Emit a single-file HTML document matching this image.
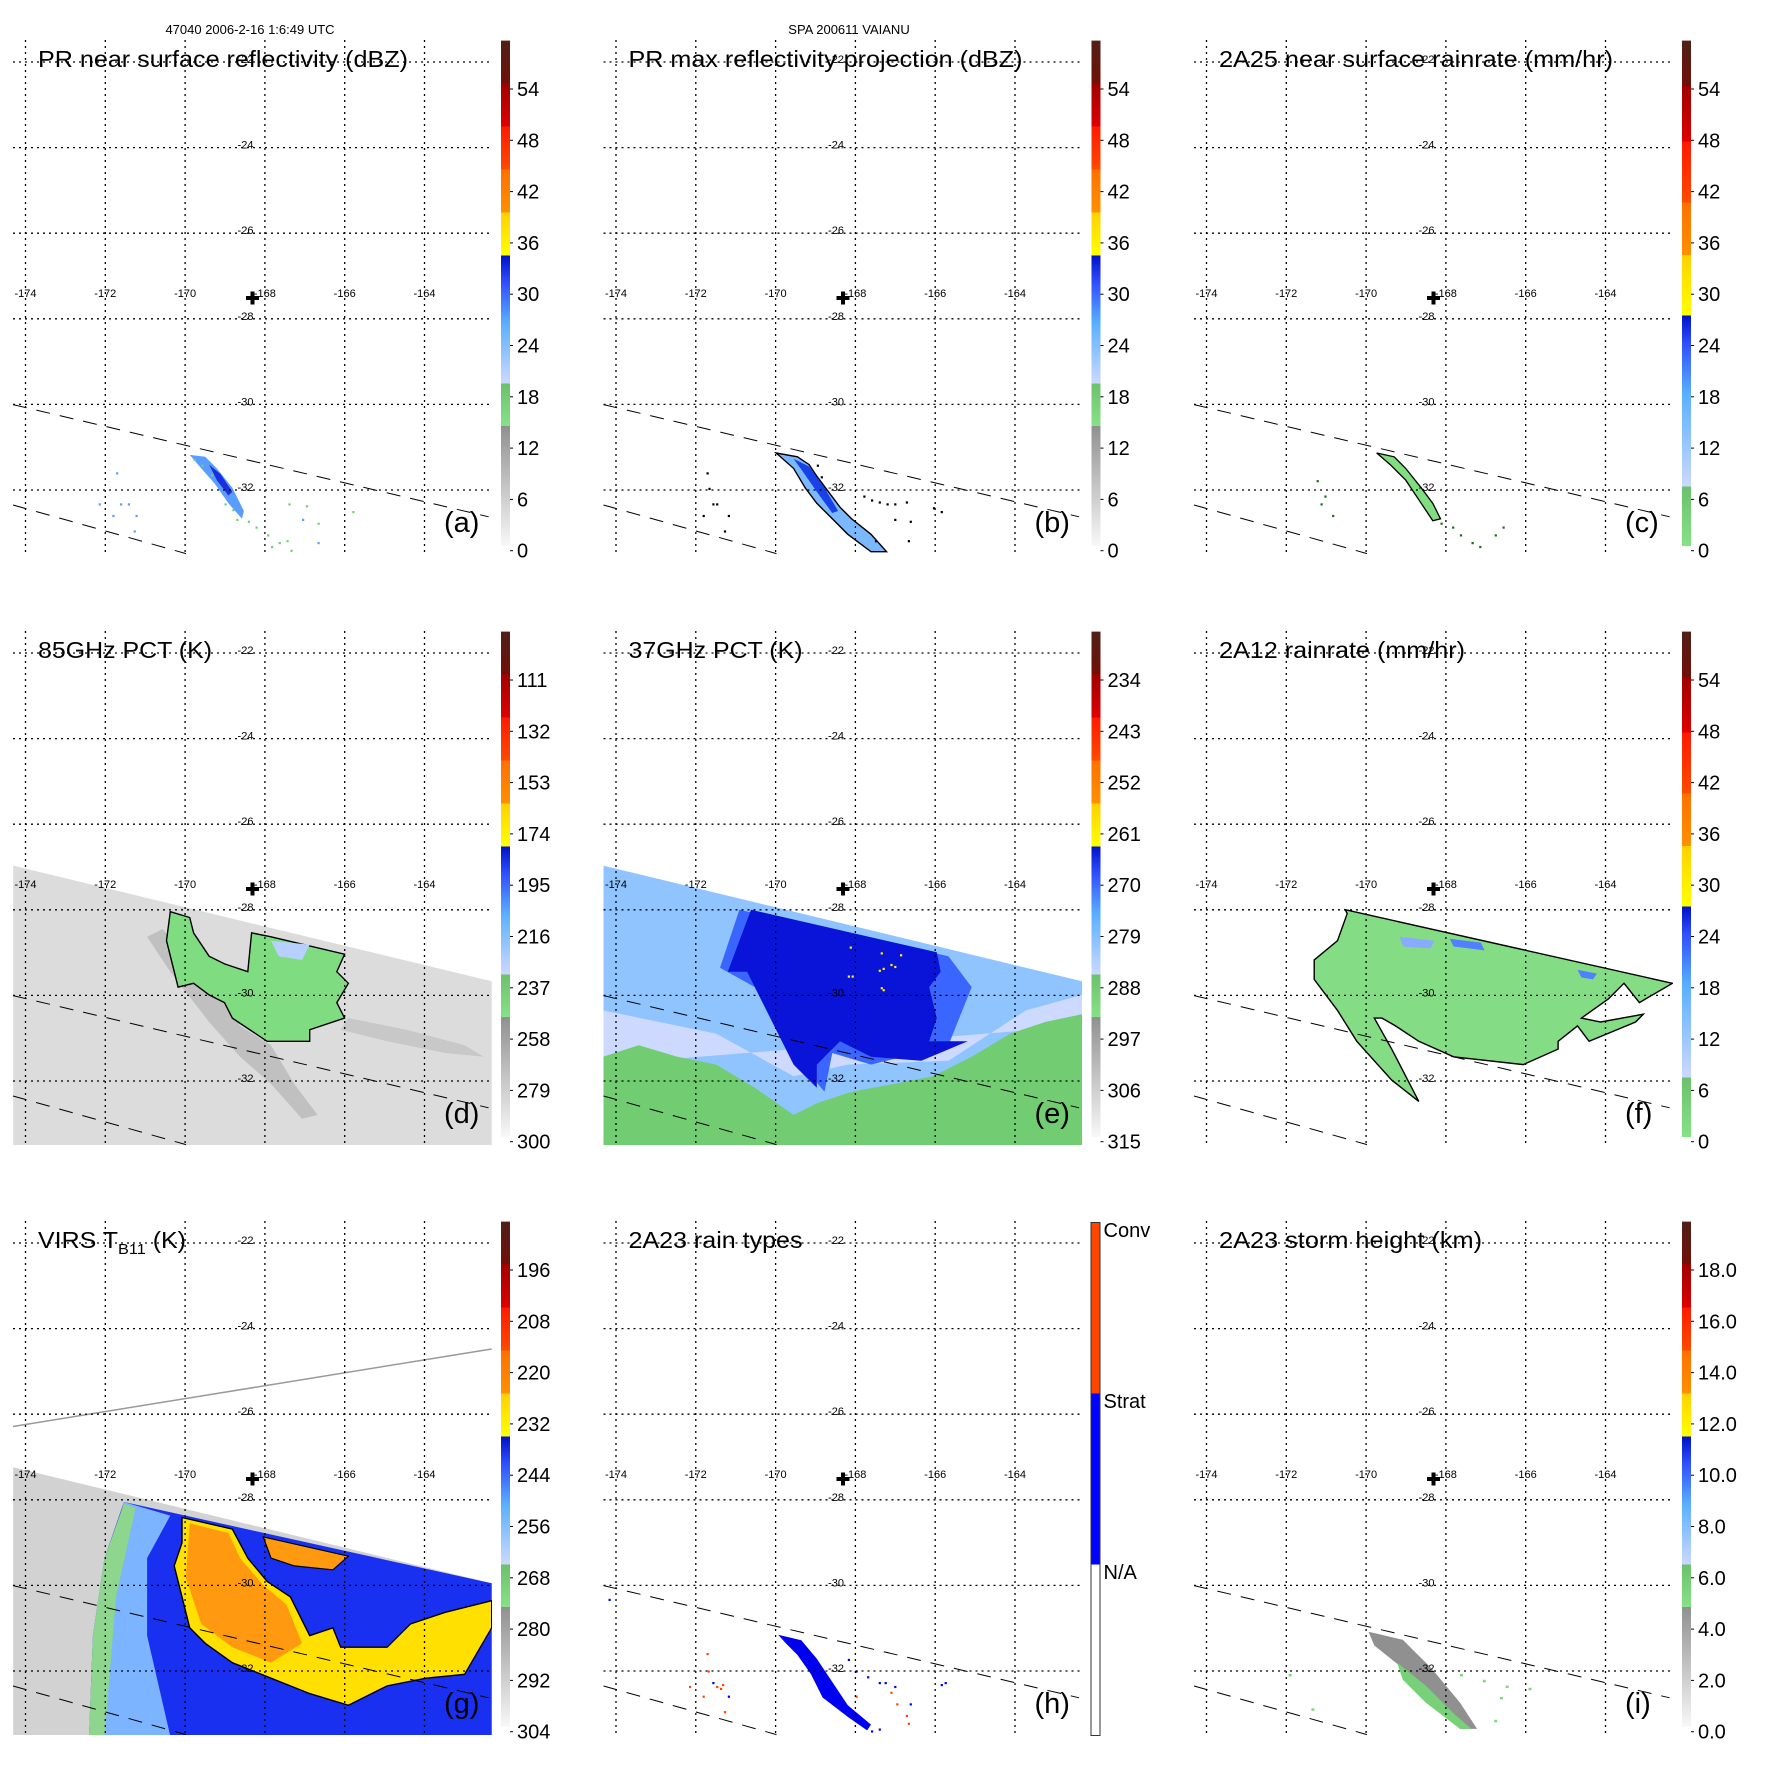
<!DOCTYPE html>
<html><head><meta charset="utf-8"><style>
html,body{margin:0;padding:0;background:#fff;}
svg{display:block;font-family:"Liberation Sans",Arial,sans-serif;}
</style></head><body>
<svg id="fig" xmlns="http://www.w3.org/2000/svg" width="1771" height="1771" viewBox="0 0 1771 1771">
<defs>
<clipPath id="mapclip"><rect x="13" y="40" width="479" height="514"/></clipPath>
<linearGradient id="gA" x1="0" y1="1" x2="0" y2="0">
<stop offset="0" stop-color="#f8f8f8"/><stop offset="0.2375" stop-color="#909090"/>
<stop offset="0.2375" stop-color="#86e286"/><stop offset="0.322" stop-color="#6cc06c"/>
<stop offset="0.322" stop-color="#ccd8ff"/><stop offset="0.44" stop-color="#5ab0ff"/><stop offset="0.52" stop-color="#3050ff"/><stop offset="0.575" stop-color="#0010c8"/>
<stop offset="0.575" stop-color="#ffff00"/><stop offset="0.66" stop-color="#ffd000"/>
<stop offset="0.66" stop-color="#ff9000"/><stop offset="0.745" stop-color="#ff7000"/>
<stop offset="0.745" stop-color="#ff4a00"/><stop offset="0.83" stop-color="#ff1a00"/>
<stop offset="0.83" stop-color="#dd0000"/><stop offset="0.916" stop-color="#a00000"/>
<stop offset="0.916" stop-color="#701008"/><stop offset="1" stop-color="#502018"/>
</linearGradient>
<linearGradient id="gC" x1="0" y1="1" x2="0" y2="0">
<stop offset="0" stop-color="#86e286"/><stop offset="0.118" stop-color="#6cc06c"/>
<stop offset="0.118" stop-color="#ccd8ff"/><stop offset="0.3" stop-color="#5ab0ff"/><stop offset="0.4" stop-color="#3050ff"/><stop offset="0.456" stop-color="#0010c8"/>
<stop offset="0.456" stop-color="#ffff00"/><stop offset="0.576" stop-color="#ffd000"/>
<stop offset="0.576" stop-color="#ff9000"/><stop offset="0.68" stop-color="#ff7000"/>
<stop offset="0.68" stop-color="#ff4a00"/><stop offset="0.8" stop-color="#ff1a00"/>
<stop offset="0.8" stop-color="#dd0000"/><stop offset="0.91" stop-color="#a00000"/>
<stop offset="0.91" stop-color="#701008"/><stop offset="1" stop-color="#502018"/>
</linearGradient>
<linearGradient id="gH" x1="0" y1="1" x2="0" y2="0">
<stop offset="0" stop-color="#ffffff"/><stop offset="0.3333" stop-color="#ffffff"/>
<stop offset="0.3333" stop-color="#0000ff"/><stop offset="0.6667" stop-color="#0000ff"/>
<stop offset="0.6667" stop-color="#ff4500"/><stop offset="1" stop-color="#ff4500"/>
</linearGradient>
</defs>
<text x="250" y="34" font-size="13" text-anchor="middle">47040 2006-2-16 1:6:49 UTC</text>
<text x="849" y="34" font-size="13" text-anchor="middle">SPA 200611 VAIANU</text>
</svg>
<script>
// ---- data arrays ----
const lonTicks = ["-174","-172","-170","-168","-166","-164"];
const latTicks = ["-22","-24","-26","-28","-30","-32"];
const titles = ["PR near surface reflectivity (dBZ)","PR max reflectivity projection (dBZ)","2A25 near surface rainrate (mm/hr)","85GHz PCT (K)","37GHz PCT (K)","2A12 rainrate (mm/hr)","VIRS T_B11 (K)","2A23 rain types","2A23 storm height (km)"];
const titleWidths = [370,394,394,174,174,246,148,174,263];
const panelLetters = ["(a)","(b)","(c)","(d)","(e)","(f)","(g)","(h)","(i)"];
const cbLabelsA = ["54","48","42","36","30","24","18","12","6","0"];
const cbLabelsD = ["111","132","153","174","195","216","237","258","279","300"];
const cbLabelsE = ["234","243","252","261","270","279","288","297","306","315"];
const cbLabelsG = ["196","208","220","232","244","256","268","280","292","304"];
const cbLabelsI = ["18.0","16.0","14.0","12.0","10.0","8.0","6.0","4.0","2.0","0.0"];
const cbLabelsH = ["Conv","Strat","N/A"];
const colOff = [0,590.5,1181];
const rowOff = [0,591,1181];

const NS="http://www.w3.org/2000/svg";
const fig=document.getElementById('fig');
function el(tag,attrs,parent){const e=document.createElementNS(NS,tag);for(const k in attrs)e.setAttribute(k,attrs[k]);parent.appendChild(e);return e;}
const lonX=i=>25.5+79.8*i;
const latY=j=>62+85.6*j;
function pts(arr,dx,dy){return arr.map(p=>(p[0]/2.583+dx).toFixed(1)+","+(p[1]/2.583+dy).toFixed(1)).join(" ");}

function poly(g,arr,dx,dy,fill,stroke,name,sw){
  const p=el('polygon',{points:pts(arr,dx,dy),fill:fill,stroke:stroke||'none','stroke-width':sw||1.2},g);
  
  
  return p;
}
function dots(g,list,dx,dy,fill,name){
  list.forEach(d=>{const r=el('rect',{x:(d[0]/2.583+dx).toFixed(1),y:(d[1]/2.583+dy).toFixed(1),width:2.2,height:2.2,fill:fill},g);
    
    });
}

function panel(idx){
  const c=idx%3,r=Math.floor(idx/3);
  const g=el('g',{transform:`translate(${colOff[c]},${rowOff[r]})`},fig);
  
  
  const data=el('g',{'clip-path':'url(#mapclip)'},g);
  
  
  drawData(idx,data);
  const grid=el('g',{stroke:'#000','stroke-width':1.3,'stroke-dasharray':'2,4',fill:'none'},g);
  
  
  lonTicks.forEach((t,i)=>{const l=el('line',{x1:lonX(i),y1:40,x2:lonX(i),y2:554},grid);
    
    });
  latTicks.forEach((t,j)=>{const l=el('line',{x1:13,y1:latY(j),x2:492,y2:latY(j)},grid);
    
    });
  const sw=el('g',{stroke:'#000','stroke-width':1,'stroke-dasharray':'14,10',fill:'none'},g);
  
  
  const l1=el('line',{x1:13,y1:404.6,x2:488.6,y2:516.8},sw);
  
  
  const l2=el('line',{x1:13,y1:505,x2:186,y2:553.6},sw);
  
  
  lonTicks.forEach((t,i)=>{const tx=el('text',{x:lonX(i),y:297,'font-size':11,'text-anchor':'middle'},g);tx.textContent=t;
    
    });
  latTicks.forEach((t,j)=>{const tx=el('text',{x:245.5,y:latY(j)+1,'font-size':11,'text-anchor':'middle'},g);tx.textContent=t;
    
    });
  const cr=el('path',{d:'M246,298 h13 M252.5,291.5 v13',stroke:'#000','stroke-width':4,fill:'none'},g);
  
  
  const tt=el('text',{x:38,y:67,'font-size':23,textLength:titleWidths[idx],lengthAdjust:'spacingAndGlyphs'},g);
  
  
  if(idx===6){tt.innerHTML='VIRS T<tspan font-size="15" dy="6">B11</tspan><tspan dy="-6"> (K)</tspan>';}
  else tt.textContent=titles[idx];
  const pl=el('text',{x:444,y:532,'font-size':29},g);pl.textContent=panelLetters[idx];
  
  
  if(idx===7){
    const cb=el('rect',{x:500.5,y:41.5,width:9,height:513,fill:'url(#gH)',stroke:'#333','stroke-width':1},g);
    
    
    cbLabelsH.forEach((t,i)=>{const tx=el('text',{x:513,y:56+171*i,'font-size':20},g);tx.textContent=t;
      
      });
  } else {
    const grad=[2,5].includes(idx)?'url(#gC)':'url(#gA)';
    const cb=el('rect',{x:501,y:40.6,width:9,height:505.4,fill:grad},g);
    
    
    const labs=[cbLabelsA,cbLabelsA,cbLabelsA,cbLabelsD,cbLabelsE,cbLabelsA,cbLabelsG,null,cbLabelsI][idx];
    labs.forEach((t,i)=>{const y=95+51.3*i;
      const tk=el('line',{x1:510,y1:y-6,x2:513,y2:y-6,stroke:'#000','stroke-width':1},g);
      
      
      const tx=el('text',{x:517,y:y+1,'font-size':20},g);tx.textContent=t;
      
      });
  }
}

function drawData(idx,g){
  if(idx===0){
    poly(g,[[490,1175],[530,1180],[560,1210],[600,1260],[630,1320],[625,1340],[590,1300],[555,1250],[520,1210]],0,0,'#5a9cff',null,'reflectivity-streak');
    poly(g,[[540,1200],[570,1225],[600,1270],[590,1280],[560,1240]],0,0,'#1a30e0',null,'reflectivity-core');
    dots(g,[[500,1185],[520,1200],[545,1225],[580,1300],[610,1340],[640,1345],[660,1360],[690,1380],[720,1400],[740,1395],[750,1420],[700,1410],[745,1300],[790,1305],[820,1350],[910,1320],[600,1315]],0,0,'#70d070','light-echo');
    dots(g,[[300,1220],[310,1300],[330,1300],[290,1330],[350,1330],[345,1370],[780,1340],[820,1400],[255,1300]],0,0,'#5a9cff','weak-echo');
  } else if(idx===1){
    poly(g,[[455,1170],[510,1180],[540,1200],[560,1230],[590,1270],[620,1310],[650,1340],[700,1380],[740,1425],[700,1425],[640,1380],[600,1340],[560,1300],[530,1260],[500,1210]],9.5,0,'#7ab8ff','#000','max-reflectivity-streak',1.4);
    poly(g,[[500,1185],[540,1205],[580,1260],[615,1320],[600,1325],[560,1270],[525,1220]],9.5,0,'#1a40e8',null,'max-reflectivity-core');
    dots(g,[[275,1220],[280,1260],[290,1300],[300,1300],[330,1330],[320,1370],[265,1330],[680,1280],[700,1290],[720,1295],[740,1300],[760,1300],[790,1295],[760,1340],[800,1345],[795,1395],[710,1395],[570,1230],[560,1200],[860,1310],[880,1320]],9.5,0,'#000','echo-outline-speck');
  } else if(idx===2){
    poly(g,[[455,1170],[500,1180],[530,1210],[570,1260],[600,1300],[620,1340],[600,1345],[570,1300],[530,1240],[490,1200]],19.5,0,'#80dd80','#000','rainrate-streak',1.3);
    dots(g,[[620,1350],[650,1360],[670,1380],[700,1400],[720,1410],[760,1380],[780,1360],[300,1240],[320,1280],[310,1300],[340,1330]],19.5,0,'#1a6a1a','rain-speck');
  } else if(idx===3){
    const sw=[[34,686],[1270,985],[1270,1408],[34,1408]];
    poly(g,sw,0,9,'#dcdcdc',null,'tmi-swath');
    poly(g,[[420,850],[560,1000],[620,1100],[700,1150],[760,1250],[820,1330],[780,1340],[700,1250],[620,1180],[540,1090],[440,960],[380,870]],0,9,'#c0c0c0',null,'low-pct-band');
    poly(g,[[900,1080],[1050,1110],[1200,1150],[1250,1180],[1150,1170],[1000,1140],[880,1110]],0,9,'#c8c8c8',null,'low-pct-band');
    poly(g,[[440,805],[490,820],[500,860],[540,920],[580,940],[640,960],[650,860],[700,870],[890,915],[870,960],[900,990],[870,1040],[890,1080],[800,1110],[800,1140],[690,1140],[600,1080],[580,1040],[540,1020],[500,990],[460,1000],[430,880]],0,9,'#80dc80','#000','pct-depression-area',1.4);
    poly(g,[[700,880],[800,890],[780,930],[720,920]],0,9,'#b8d0ff',null,'pct-low-patch');
  } else if(idx===4){
    const sw=[[8,686],[1245,985],[1245,1408],[8,1408]];
    poly(g,sw,9.5,9,'#90c4ff',null,'tmi-swath');
    poly(g,[[8,1060],[300,1120],[500,1230],[640,1200],[900,1190],[1100,1060],[1245,1020],[1245,1100],[8,1200]],9.5,9,'#cdd9ff',null,'pct-light-area');
    poly(g,[[8,1180],[100,1150],[200,1180],[300,1200],[400,1260],[500,1330],[560,1300],[650,1270],[760,1250],[860,1230],[960,1180],[1060,1120],[1150,1090],[1245,1070],[1245,1408],[8,1408]],9.5,9,'#72cc72',null,'pct-warm-area');
    poly(g,[[360,800],[900,920],[960,1000],[900,1150],[700,1200],[600,1170],[580,1270],[480,1150],[400,1000],[310,950]],9.5,9,'#3a66ff',null,'pct-mid-area');
    poly(g,[[390,800],[870,910],[880,960],[850,1000],[870,1080],[850,1140],[950,1140],[830,1190],[700,1180],[620,1140],[560,1200],[560,1260],[500,1200],[440,1080],[380,960],[330,960]],9.5,9,'#0a14d8',null,'pct-cold-area');
    dots(g,[[640,970],[650,970],[720,955],[730,950],[750,940],[760,945],[725,1000],[730,1005],[645,895],[725,910],[775,915]],9.5,9,'#ffee00','pct-very-cold');
  } else if(idx===5){
    poly(g,[[450,800],[1295,990],[1210,1040],[1170,990],[1130,1030],[1060,1080],[1110,1090],[1220,1070],[1200,1090],[1080,1140],[1050,1100],[1000,1140],[1000,1160],[910,1200],[730,1180],[640,1140],[580,1100],[545,1080],[525,1080],[570,1160],[640,1295],[570,1240],[480,1140],[430,1060],[370,980],[370,930],[430,880],[455,810]],-10,9,'#84dc84','#000','rainrate-area',1.4);
    poly(g,[[590,870],[680,880],[670,900],[600,895]],-10,9,'#88aaff',null,'rain-moderate-patch');
    poly(g,[[720,875],[800,885],[810,905],[730,895]],-10,9,'#5080ff',null,'rain-moderate-patch');
    poly(g,[[1050,955],[1100,965],[1090,980],[1060,975]],-10,9,'#5080ff',null,'rain-moderate-patch');
  } else if(idx===6){
    poly(g,[[34,765],[1270,1065],[1270,1460],[34,1460]],0,-10,'#d2d2d2',null,'virs-swath');
    poly(g,[[320,855],[1270,1065],[1270,1460],[230,1460],[240,1200],[270,1000]],0,-10,'#1a30f0',null,'virs-cold-area');
    poly(g,[[320,855],[440,890],[380,1000],[380,1200],[440,1460],[230,1460],[250,1150],[280,1000]],0,-10,'#7cb4ff',null,'virs-cool-band');
    poly(g,[[270,1000],[320,860],[350,870],[300,1100],[270,1460],[230,1460],[240,1200]],0,-10,'#8ed68e',null,'virs-warm-edge');
    poly(g,[[470,895],[600,925],[640,1000],[690,1060],[750,1100],[800,1200],[860,1180],[880,1230],[1000,1230],[1060,1170],[1150,1140],[1270,1110],[1270,1180],[1200,1300],[1100,1310],[1000,1330],[900,1380],[800,1350],[700,1310],[600,1270],[530,1220],[490,1180],[470,1100],[450,1020],[470,960]],0,-10,'#ffe000','#000','virs-very-cold-area',1.4);
    poly(g,[[490,910],[590,935],[620,1000],[680,1070],[740,1120],[780,1220],[700,1270],[600,1230],[520,1170],[480,1050]],0,-10,'#ff9a10',null,'virs-coldest-core');
    poly(g,[[680,945],[900,995],[860,1030],[760,1020],[700,1000]],0,-10,'#ff9a10','#000','virs-coldest-core');
    const gl=el('line',{x1:13,y1:245.5,x2:491.7,y2:168,stroke:'#999','stroke-width':1.5},g);
    
    
  } else if(idx===7){
    poly(g,[[460,1198],[520,1212],[560,1260],[600,1320],[640,1380],[700,1430],[690,1445],[640,1410],[575,1360],[545,1300],[510,1250],[480,1220]],9.5,-10,'#0000f0',null,'stratiform-streak');
    dots(g,[[640,1260],[660,1290],[690,1305],[720,1320],[735,1320],[760,1330],[800,1375],[680,1430],[700,1445],[720,1440],[650,1400],[880,1325],[890,1320],[290,1320],[330,1355],[22,1105]],9.5,-10,'#0000f0','stratiform-speck');
    dots(g,[[275,1245],[278,1290],[300,1330],[310,1335],[315,1325],[265,1355],[230,1330],[320,1395],[750,1345],[765,1375],[790,1405],[795,1425],[660,1355]],9.5,-10,'#ff4500','convective-speck');
  } else if(idx===8){
    const dx=1.1426, ox=-1195, oy=-1198;
    const p=el('polygon',{points:[[1210,1443],[1240,1450],[1265,1475],[1290,1505],[1305,1528],[1290,1528],[1262,1500],[1240,1475],[1215,1455]].map(q=>(q[0]*dx+ox).toFixed(1)+","+(q[1]*dx+oy).toFixed(1)).join(" "),fill:'#909090'},g);
    
    
    const p2=el('polygon',{points:[[1235,1470],[1260,1490],[1285,1515],[1300,1528],[1290,1528],[1260,1505],[1240,1485]].map(q=>(q[0]*dx+ox).toFixed(1)+","+(q[1]*dx+oy).toFixed(1)).join(" "),fill:'#78d078'},g);
    
    
    [[1290,1480],[1310,1485],[1330,1490],[1350,1492],[1325,1500],[1140,1480],[1160,1510],[1320,1520]].forEach(q=>{
      const r=el('rect',{x:(q[0]*dx+ox).toFixed(1),y:(q[1]*dx+oy).toFixed(1),width:3,height:2.5,fill:'#80d880'},g);
      
      });
  }
}
for(let i=0;i<9;i++)panel(i);
</script>
</body></html>
